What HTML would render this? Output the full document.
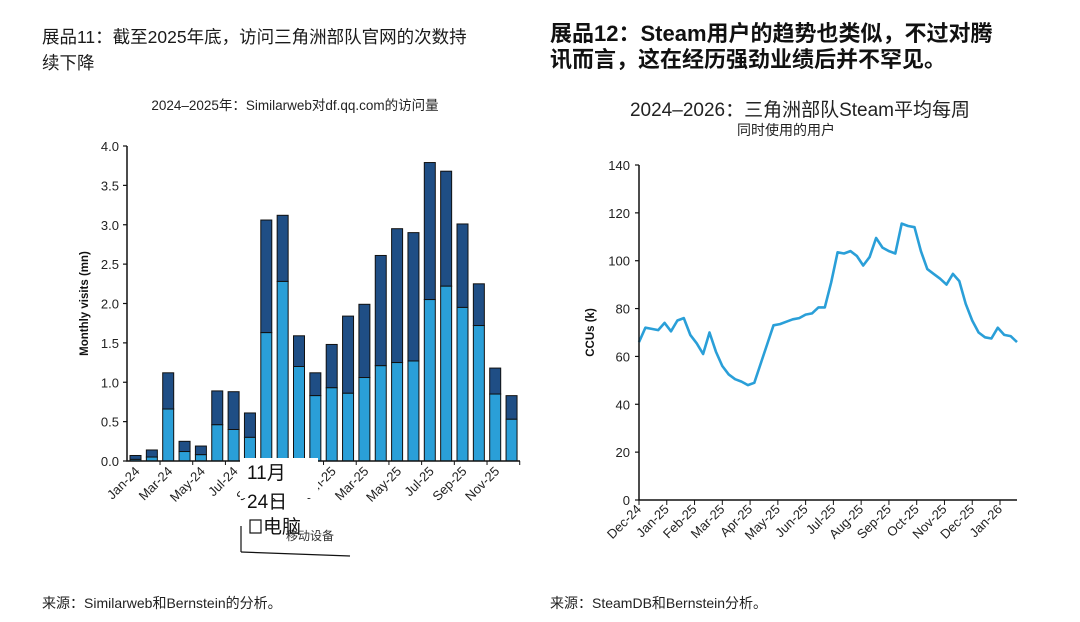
<!DOCTYPE html>
<html><head><meta charset="utf-8"><style>
html,body{margin:0;padding:0;background:#fff;}
svg{display:block;font-family:"Liberation Sans","Noto Sans CJK SC",sans-serif;}
</style></head><body>
<svg id="pg" width="1080" height="622" viewBox="0 0 1080 622">
<text x="42" y="43" font-size="17.5" fill="#1a1a1a">展品11：截至2025年底，访问三角洲部队官网的次数持</text>
<text x="42" y="69" font-size="17.5" fill="#1a1a1a">续下降</text>
<text x="550" y="41" font-size="22" font-weight="bold" fill="#111">展品12：Steam用户的趋势也类似，不过对腾</text>
<text x="550" y="67" font-size="22" font-weight="bold" fill="#111">讯而言，这在经历强劲业绩后并不罕见。</text>
<text x="295" y="110" font-size="13.5" fill="#222" text-anchor="middle">2024–2025年：Similarweb对df.qq.com的访问量</text>
<text x="800" y="116" font-size="19" fill="#222" text-anchor="middle">2024–2026：三角洲部队Steam平均每周</text>
<text x="786" y="135" font-size="14" fill="#222" text-anchor="middle">同时使用的用户</text>
<text x="42" y="608" font-size="14" fill="#222">来源：Similarweb和Bernstein的分析。</text>
<text x="550" y="608" font-size="14" fill="#222">来源：SteamDB和Bernstein分析。</text>
<g id="left"></g>
<g id="right"></g>
<g>
<rect x="240" y="458" width="78" height="40" fill="#fff"/>
<text x="247" y="479" font-size="19" fill="#111">11月</text>
<text x="247" y="508" font-size="19" fill="#111">24日</text>
<rect x="250" y="520" width="11" height="13" fill="#fff" stroke="#111" stroke-width="1.2"/>
<text x="263" y="533" font-size="19" fill="#111">电脑</text>
<text x="286" y="540" font-size="12" fill="#333">移动设备</text>
<line x1="241" y1="526" x2="241" y2="552" stroke="#111" stroke-width="1.2"/>
<line x1="241" y1="552" x2="350" y2="556" stroke="#111" stroke-width="1.2"/>
</g>
</svg>
<script>
const NS="http://www.w3.org/2000/svg";
function mk(p,t,a){const e=document.createElementNS(NS,t);for(const k in a)e.setAttribute(k,a[k]);p.appendChild(e);return e;}
// ---- left chart data
const months=["Jan-24","Feb-24","Mar-24","Apr-24","May-24","Jun-24","Jul-24","Aug-24","Sep-24","Oct-24","Nov-24","Dec-24","Jan-25","Feb-25","Mar-25","Apr-25","May-25","Jun-25","Jul-25","Aug-25","Sep-25","Oct-25","Nov-25","Dec-25"];
const totalVisits=[0.07,0.14,1.12,0.25,0.19,0.89,0.88,0.61,3.06,3.12,1.59,1.12,1.48,1.84,1.99,2.61,2.95,2.90,3.79,3.68,3.01,2.25,1.18,0.83];
const desktopVisits=[0.02,0.05,0.66,0.12,0.08,0.46,0.40,0.30,1.63,2.28,1.20,0.83,0.93,0.86,1.06,1.21,1.25,1.27,2.05,2.22,1.95,1.72,0.85,0.53];
const leftTicks=["0.0","0.5","1.0","1.5","2.0","2.5","3.0","3.5","4.0"];
// ---- right chart data
const weekLabels=["Dec-24","Jan-25","Feb-25","Mar-25","Apr-25","May-25","Jun-25","Jul-25","Aug-25","Sep-25","Oct-25","Nov-25","Dec-25","Jan-26"];
const ccu=[66,72,71.5,71,74,70.5,75,76,69,65.5,61,70,62,56,52.5,50.5,49.5,48,49,57,65,73,73.5,74.5,75.5,76,77.5,78,80.5,80.5,91,103.5,103,104,102,98,101.5,109.5,105.5,104,103,115.5,114.5,114,104,96.5,94.5,92.5,90,94.5,91.5,82,75,70,68,67.5,72,69,68.5,66];
const rightTicks=["0","20","40","60","80","100","120","140"];

// left chart
(function(){
const g=document.getElementById('left');
const x0=127,x1=520,yb=461,yt=146,ymax=4;
const y=v=>yb-(v/ymax)*(yb-yt);
const step=16.35;
const cx=i=>135.5+step*i;
leftTicks.forEach(t=>{const v=parseFloat(t);
 const l=mk(g,'line',{x1:x0-4,x2:x0,y1:y(v),y2:y(v),stroke:'#111','stroke-width':1.2});
 
 
 const tx=mk(g,'text',{x:x0-8,y:y(v)+5,'font-size':13,'text-anchor':'end',fill:'#222'});tx.textContent=t;
 
 });
const yt2=mk(g,'text',{transform:'translate(88,'+((yb+yt)/2)+') rotate(-90)','font-size':11.5,'font-weight':'bold','text-anchor':'middle',fill:'#111'});yt2.textContent='Monthly visits (mn)';


months.forEach((m,i)=>{const w=11,X=cx(i)-w/2;
 const b1=mk(g,'rect',{x:X,y:y(totalVisits[i]),width:w,height:y(desktopVisits[i])-y(totalVisits[i]),fill:'#1f4e85',stroke:'#111','stroke-width':1});
 
 
 const b2=mk(g,'rect',{x:X,y:y(desktopVisits[i]),width:w,height:yb-y(desktopVisits[i]),fill:'#2a9fd8',stroke:'#111','stroke-width':1});
 
 
 if(i%2===0){const tx=mk(g,'text',{transform:'translate('+(cx(i)+5)+','+(yb+11)+') rotate(-45)','font-size':13,'text-anchor':'end',fill:'#222'});tx.textContent=m;
 
 }
 const tk=mk(g,'line',{x1:cx(i)+step/2,x2:cx(i)+step/2,y1:yb,y2:yb+(i%2?4:0),stroke:'#111'});
 
 
});
const ax=mk(g,'path',{d:`M${x0},${yt} V${yb} H${x1}`,fill:'none',stroke:'#111','stroke-width':1.5});


})();

// right chart
(function(){
const g=document.getElementById('right');
const x0=639,x1=1017,yb=500,yt=165,ymax=140;
const y=v=>yb-(v/ymax)*(yb-yt);
const x=i=>x0+i*(x1-x0)/(ccu.length-1);
rightTicks.forEach(t=>{const v=parseFloat(t);
 const l=mk(g,'line',{x1:x0-4,x2:x0,y1:y(v),y2:y(v),stroke:'#111','stroke-width':1.2});
 
 
 const tx=mk(g,'text',{x:x0-9,y:y(v)+5,'font-size':13,'text-anchor':'end',fill:'#222'});tx.textContent=t;
 
 });
const yl=mk(g,'text',{transform:'translate(594,'+((yb+yt)/2)+') rotate(-90)','font-size':11.5,'font-weight':'bold','text-anchor':'middle',fill:'#111'});yl.textContent='CCUs (k)';


const mstep=(1000-x0)/13;
weekLabels.forEach((m,i)=>{const X=x0+i*mstep;
 const tk=mk(g,'line',{x1:X,x2:X,y1:yb,y2:yb+5,stroke:'#111'});
 
 
 const tx=mk(g,'text',{transform:'translate('+(X+3)+','+(yb+10)+') rotate(-45)','font-size':13,'text-anchor':'end',fill:'#222'});tx.textContent=m;
 
 });
const d=ccu.map((v,i)=>(i?'L':'M')+x(i).toFixed(1)+','+y(v).toFixed(1)).join(' ');
const ln=mk(g,'path',{d:d,fill:'none',stroke:'#2a9fd8','stroke-width':2.6,'stroke-linejoin':'round'});


const ax=mk(g,'path',{d:`M${x0},${yt} V${yb} H${x1}`,fill:'none',stroke:'#111','stroke-width':1.5});


})();
</script>
</body></html>
